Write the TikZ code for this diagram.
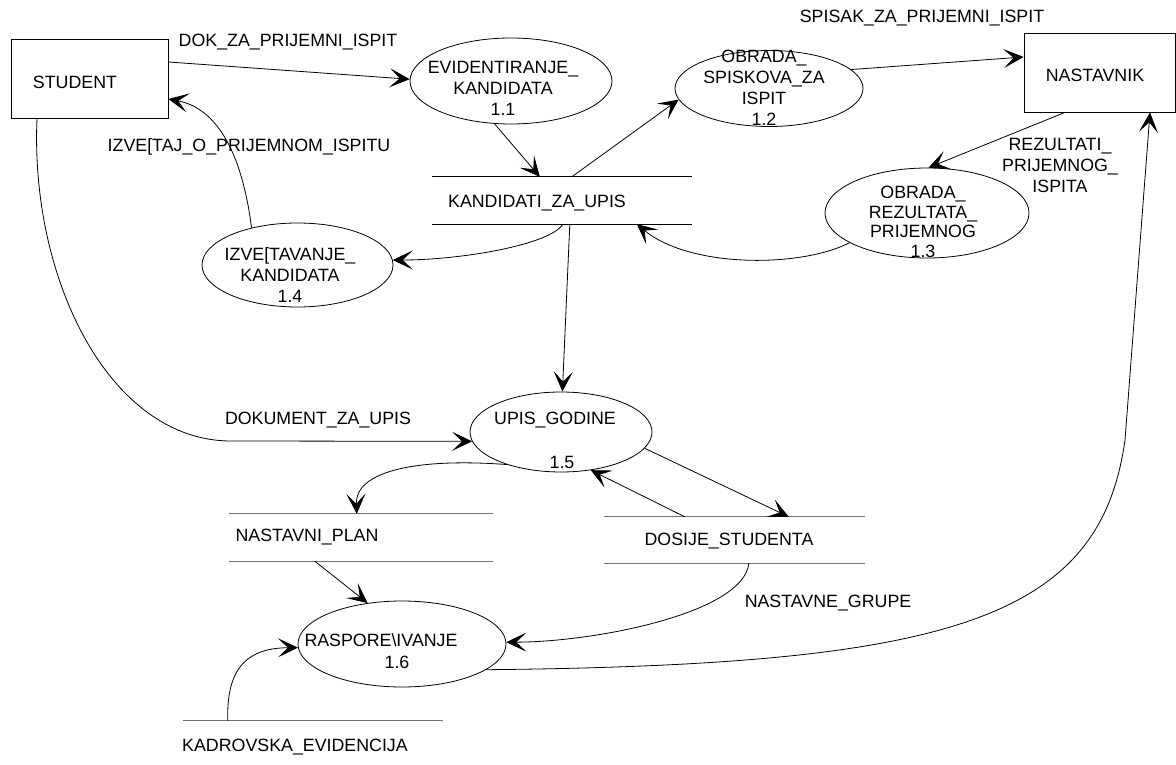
\documentclass[tikz,border=0pt]{standalone}
\usepackage{fontspec}
\setmainfont{Liberation Sans}
\usetikzlibrary{arrows.meta,shapes.geometric,calc}
\begin{document}
\begin{tikzpicture}[x=1pt,y=-1pt,
  font=\fontsize{17.8}{21}\selectfont,
  lbl/.style={inner sep=0pt, align=center},
  proc/.style={draw, ellipse, inner sep=0pt, line width=0.8pt},
  ent/.style={draw, rectangle, inner sep=0pt, line width=0.8pt},
  storebox/.style={inner sep=0pt},
  flow/.style={line width=0.8pt, -{Stealth[length=20pt,width=19pt,inset=10pt]}},
  storeline/.style={line width=0.9pt, black},
  storeline2/.style={line width=1.2pt, black!55}
]
\useasboundingbox (0,0) rectangle (1176,765);
\fill[white] (0,0) rectangle (1176,765);

% entities
\node[ent, minimum width=157, minimum height=79] (student) at (89.5,78.5) {};
\node[lbl] (tstudent) at (75,82) {STUDENT};
\node[ent, minimum width=151.5, minimum height=79] (nastavnik) at (1099.75,72.5) {};
\node[lbl] (tnastavnik) at (1095,75) {NASTAVNIK};

% processes
\node[proc, minimum width=202, minimum height=86] (p11) at (511,81) {};
\node[lbl] (t11) at (503,88) {EVIDENTIRANJE\_\\KANDIDATA\\1.1};
\node[proc, minimum width=188, minimum height=76] (p12) at (769,88.5) {};
\node[lbl] (t12) at (764,88) {OBRADA\_\\SPISKOVA\_ZA\\ISPIT\\1.2};
\node[proc, minimum width=204, minimum height=90] (p13) at (927,213) {};
\node[lbl, font=\fontsize{17.8}{19.5}\selectfont] (t13) at (923,222) {OBRADA\_\\REZULTATA\_\\PRIJEMNOG\\1.3};
\node[proc, minimum width=191, minimum height=84] (p14) at (297.5,265) {};
\node[lbl] (t14) at (290,275) {IZVE[TAVANJE\_\\KANDIDATA\\1.4};
\node[proc, minimum width=182, minimum height=80] (p15) at (561,432) {};
\node[lbl] (t15) at (555,420) {UPIS\_GODINE};
\node[lbl] (t15n) at (562,462) {1.5};
\node[proc, minimum width=208, minimum height=86] (p16) at (402,644) {};
\node[lbl] (t16) at (381,640) {RASPORE\textbackslash IVANJE};
\node[lbl] (t16n) at (397,662) {1.6};

% data stores
\node[storebox, minimum width=260, minimum height=47] (kzu) at (562,200.5) {};
\draw[storeline] (kzu.north west) -- (kzu.north east) (kzu.south west) -- (kzu.south east);
\node[lbl] (tkzu) at (537,203) {KANDIDATI\_ZA\_UPIS};
\node[storebox, minimum width=264, minimum height=47] (np) at (361,537.5) {};
\draw[storeline2] (np.north west) -- (np.north east) (np.south west) -- (np.south east);
\node[lbl] (tnp) at (307,537) {NASTAVNI\_PLAN};
\node[storebox, minimum width=261, minimum height=46] (ds) at (734.5,540) {};
\draw[storeline2] (ds.north west) -- (ds.north east) (ds.south west) -- (ds.south east);
\node[lbl] (tds) at (729,541) {DOSIJE\_STUDENTA};
\node[storebox, minimum width=260, minimum height=47] (ke) at (313,744.5) {};
\draw[storeline2] (ke.north west) -- (ke.north east);
\node[lbl] (tke) at (295,747) {KADROVSKA\_EVIDENCIJA};

% flow labels
\node[lbl] (ldok) at (288,42) {DOK\_ZA\_PRIJEMNI\_ISPIT};
\node[lbl] (lizv) at (249,147) {IZVE[TAJ\_O\_PRIJEMNOM\_ISPITU};
\node[lbl] (lspi) at (922,18) {SPISAK\_ZA\_PRIJEMNI\_ISPIT};
\node[lbl] (lrez) at (1060,165) {REZULTATI\_\\PRIJEMNOG\_\\ISPITA};
\node[lbl] (ldku) at (318,420) {DOKUMENT\_ZA\_UPIS};
\node[lbl] (lng) at (828,603) {NASTAVNE\_GRUPE};

% helper coordinates
\coordinate (bend) at (231,441);
\coordinate (turn) at (1125,440);

% flows
\draw[flow] ([yshift=16.5pt]student.east) -- (p11.179);
\draw[flow] (p14.141) .. controls +(-10,-78) and +(47,9) .. ([yshift=-20.5pt]student.east);
\draw[flow] ([xshift=-52.5pt]student.south) .. controls (30,280) and (110,441) .. (bend) -- (p15.186);
\draw[flow] (p11.249) -- ([xshift=108pt]kzu.north west);
\draw[flow] ([xshift=140pt]kzu.north west) -- (p12.187);
\draw[flow] (p12.13) -- ([yshift=15.5pt]nastavnik.west);
\draw[flow] ([xshift=-34.75pt]nastavnik.south) -- (p13.88);
\draw[flow] (p13.201) .. controls (800,268) and (690,268) .. ([xshift=205pt]kzu.south west);
\draw[flow] ([xshift=131pt]kzu.south west) .. controls (550,245) and (460,260) .. (p14.3);
\draw[flow] ([xshift=138pt]kzu.south west) -- (p15.88);
\draw[flow] (p15.211) .. controls (420,458) and (355,470) .. ([xshift=128pt]np.north west);
\draw[flow] (p15.349) -- ([xshift=185pt]ds.north west);
\draw[flow] ([xshift=81pt]ds.north west) -- (p15.308);
\draw[flow] ([xshift=86pt]np.south west) -- (p16.130);
\draw[flow] ([xshift=145pt]ds.south west) .. controls (744,613) and (595,642) .. (p16.1);
\draw[flow] ([xshift=45pt]ke.north west) .. controls (226,665) and (250,648) .. (p16.182);
\draw[flow] (p16.343) .. controls (950,665) and (1100,620) .. (turn) -- ([xshift=50.25pt]nastavnik.south);
\end{tikzpicture}
\end{document}
